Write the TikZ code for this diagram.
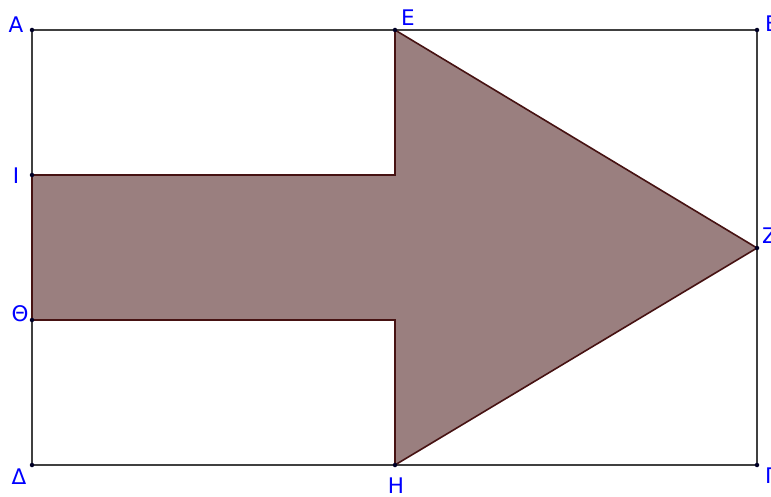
\documentclass[tikz,border=0pt]{standalone}
\usepackage{fontspec}
\setmainfont{DejaVu Sans}
\begin{document}
\begin{tikzpicture}[x=1pt,y=-1pt,
  frame/.style={draw=black!75, line width=1.5pt},
  arrowshape/.style={fill=arrowfill, draw=arrowedge, line width=1.6pt, line join=miter},
  pt/.style={circle, fill=black!85!blue, inner sep=0pt, minimum size=4.5pt},
  lbl/.style={text=blue, font=\fontsize{21.5}{21.5}\selectfont, inner sep=0pt}]
\definecolor{arrowfill}{RGB}{154,127,127}
\definecolor{arrowedge}{RGB}{70,18,18}
\useasboundingbox (0,0) rectangle (771,497);
\coordinate (A) at (32,30);
\coordinate (B) at (757,30);
\coordinate (G) at (757,465);
\coordinate (D) at (32,465);
\coordinate (E) at (395,30);
\coordinate (H) at (395,465);
\coordinate (Z) at (757,248);
\coordinate (I) at (32,175);
\coordinate (T) at (32,320);
\coordinate (P) at (395,175);
\coordinate (Q) at (395,320);
\draw[frame] (A) -- (B) -- (G) -- (D) -- cycle;
\draw[arrowshape] (I) -- (P) -- (E) -- (Z) -- (H) -- (Q) -- (T) -- cycle;
\foreach \p in {A,B,G,D,E,H,Z,I,T} \node[pt] at (\p) {};
\node[lbl] (lA) at (16,25) {A};
\node[lbl, anchor=west] (lB) at (765,24) {B};
\node[lbl] (lE) at (408,18) {E};
\node[lbl, anchor=west] (lZ) at (762,236) {Z};
\node[lbl] (lI) at (16,176) {I};
\node[lbl] (lT) at (20,314) {Θ};
\node[lbl] (lD) at (19,477) {Δ};
\node[lbl] (lH) at (396,486) {H};
\node[lbl, anchor=west] (lG) at (765,476) {Γ};
\end{tikzpicture}
\end{document}
